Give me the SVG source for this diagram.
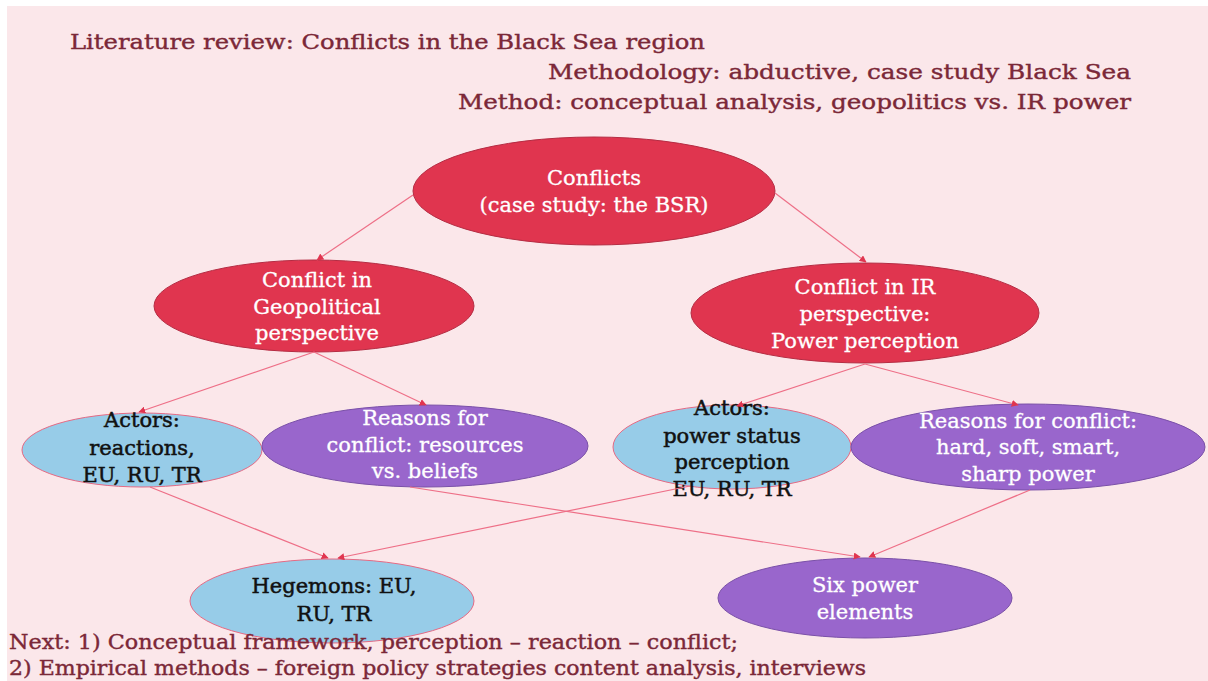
<svg xmlns="http://www.w3.org/2000/svg" width="1208" height="681" viewBox="0 0 1208 681">
<defs>
<marker id="ah" viewBox="0 0 10 10" refX="9" refY="5" markerWidth="7" markerHeight="7" orient="auto" markerUnits="userSpaceOnUse">
<path d="M0,0 L10,5 L0,10 z" fill="#E0354F"/>
</marker>
<style>
.bg{fill:#FBE7EA}
.red{fill:#E0354F;stroke:#B52C43;stroke-width:1}
.blue{fill:#97CCE8;stroke:#E56A84;stroke-width:1}
.pur{fill:#9966CC;stroke:#7A50A8;stroke-width:1}
.w{font-family:"DejaVu Serif","Liberation Serif",serif;font-size:21px;fill:#FFFFFF;stroke:#FFFFFF;stroke-width:0.3;text-anchor:middle}
.k{font-family:"DejaVu Serif","Liberation Serif",serif;font-size:21px;fill:#111111;stroke:#111111;stroke-width:0.5;text-anchor:middle}
.t{font-family:"DejaVu Serif","Liberation Serif",serif;font-size:21px;fill:#7B2838;stroke:#7B2838;stroke-width:0.4}
.e{fill:none;stroke:#EE6F87;stroke-width:1.2;marker-end:url(#ah)}
</style>
</defs>
<rect class="bg" x="7" y="6" width="1201" height="675"/>
<g id="titles">
<text class="t" x="70" y="49" textLength="635" lengthAdjust="spacingAndGlyphs">Literature review: Conflicts in the Black Sea region</text>
<text class="t" x="548" y="79" textLength="583" lengthAdjust="spacingAndGlyphs">Methodology: abductive, case study Black Sea</text>
<text class="t" x="458" y="109" textLength="673" lengthAdjust="spacingAndGlyphs">Method: conceptual analysis, geopolitics vs. IR power</text>
</g>
<g id="n-conflicts">
<ellipse class="red" cx="594" cy="191" rx="181" ry="54"/>
<text class="w" x="594" y="185">Conflicts</text>
<text class="w" x="594" y="212">(case study: the BSR)</text>
</g>
<g id="n-geo">
<ellipse class="red" cx="314" cy="306" rx="160" ry="46"/>
<text class="w" x="317" y="287">Conflict in</text>
<text class="w" x="317" y="314">Geopolitical</text>
<text class="w" x="317" y="340">perspective</text>
</g>
<g id="n-ir">
<ellipse class="red" cx="865" cy="313" rx="174" ry="50"/>
<text class="w" x="865" y="294">Conflict in IR</text>
<text class="w" x="865" y="321">perspective:</text>
<text class="w" x="865" y="348">Power perception</text>
</g>
<g id="n-actors1">
<ellipse class="blue" cx="142" cy="450" rx="120" ry="37"/>
<text class="k" x="142" y="427">Actors:</text>
<text class="k" x="142" y="455">reactions,</text>
<text class="k" x="142" y="482">EU, RU, TR</text>
</g>
<g id="n-reasons1">
<ellipse class="pur" cx="425" cy="446" rx="163" ry="41"/>
<text class="w" x="425" y="425">Reasons for</text>
<text class="w" x="425" y="452">conflict: resources</text>
<text class="w" x="425" y="478">vs. beliefs</text>
</g>
<g id="n-actors2">
<ellipse class="blue" cx="732" cy="447" rx="119" ry="42"/>
<text class="k" x="732" y="415">Actors:</text>
<text class="k" x="732" y="443">power status</text>
<text class="k" x="732" y="469">perception</text>
<text class="k" x="732" y="496">EU, RU, TR</text>
</g>
<g id="n-reasons2">
<ellipse class="pur" cx="1028" cy="447" rx="177" ry="43"/>
<text class="w" x="1028" y="428">Reasons for conflict:</text>
<text class="w" x="1028" y="454">hard, soft, smart,</text>
<text class="w" x="1028" y="481">sharp power</text>
</g>
<g id="n-hegemons">
<ellipse class="blue" cx="332" cy="601" rx="142" ry="42"/>
<text class="k" x="334" y="593">Hegemons: EU,</text>
<text class="k" x="334" y="621">RU, TR</text>
</g>
<g id="n-six">
<ellipse class="pur" cx="865" cy="598" rx="147" ry="40"/>
<text class="w" x="865" y="592">Six power</text>
<text class="w" x="865" y="619">elements</text>
</g>
<g id="connectors">
<line class="e" x1="413" y1="195" x2="317" y2="260"/>
<line class="e" x1="775" y1="193" x2="866" y2="262"/>
<line class="e" x1="314" y1="352" x2="139" y2="412"/>
<line class="e" x1="314" y1="352" x2="426" y2="405"/>
<line class="e" x1="865" y1="364" x2="737" y2="406"/>
<line class="e" x1="865" y1="364" x2="1018" y2="405"/>
<line class="e" x1="150" y1="487" x2="328" y2="558"/>
<line class="e" x1="690" y1="486" x2="338" y2="558"/>
<line class="e" x1="410" y1="487" x2="860" y2="557"/>
<line class="e" x1="1030" y1="490" x2="869" y2="557"/>
</g>
<g id="footer">
<text class="t" x="9" y="649" textLength="729" lengthAdjust="spacingAndGlyphs">Next: 1) Conceptual framework,  perception – reaction – conflict;</text>
<text class="t" x="9" y="675" textLength="857" lengthAdjust="spacingAndGlyphs">2) Empirical methods – foreign policy strategies content analysis, interviews</text>
</g>
</svg>
